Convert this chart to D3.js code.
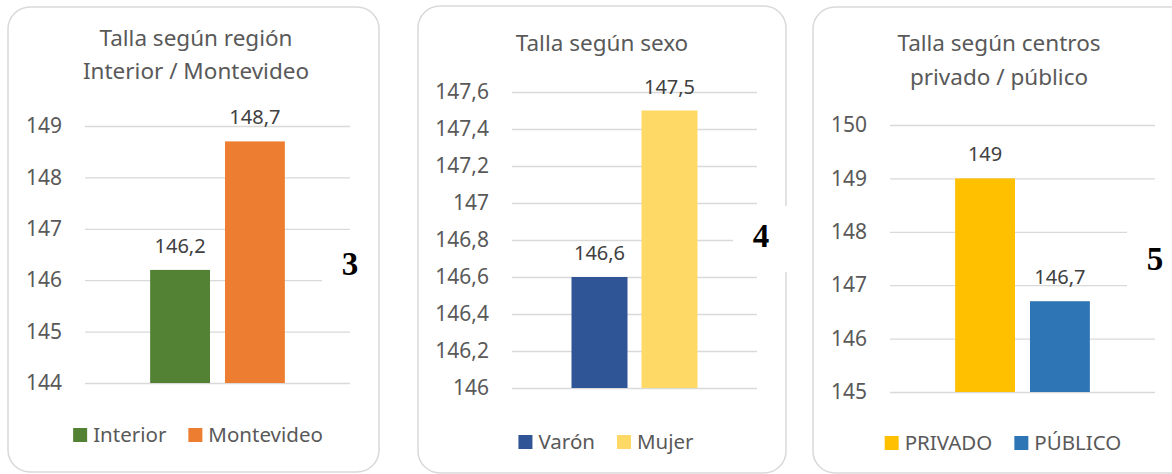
<!DOCTYPE html>
<html>
<head>
<meta charset="utf-8">
<script src="https://cdn.jsdelivr.net/npm/d3@7"></script>
<style>
  body { margin: 0; background: #fff; }
  svg { display: block; font-family: "Noto Sans", sans-serif; }
</style>
</head>
<body>
<svg id="chart" width="1172" height="474"></svg>
<script>
// data
const regionCats = ["Interior", "Montevideo"];
const regionVals = [146.2, 148.7];
const regionTicks = [144, 145, 146, 147, 148, 149];

const sexoCats = ["Varón", "Mujer"];
const sexoVals = [146.6, 147.5];
const sexoTicks = [146, 146.2, 146.4, 146.6, 146.8, 147, 147.2, 147.4, 147.6];

const centroCats = ["PRIVADO", "PÚBLICO"];
const centroVals = [149, 146.7];
const centroTicks = [145, 146, 147, 148, 149, 150];

const GRID = '#d9d9d9';
const TEXT = '#595959';

const fmt = d3.formatLocale({decimal: ",", thousands: ".", grouping: [3], currency: ["", ""]}).format("~f");

const panels = [
    {
        title: ["Talla según región", "Interior / Montevideo"], titleY: [46, 79], titleX: 196,
        cats: regionCats, vals: regionVals, ticks: regionTicks,
        colors: ['#548235', '#ed7d31'],
        box: [8, 7, 371, 465],
        x: [85, 350], y: [383, 126], pad: 0.87,
        legendX: 198, legendY: 435,
        num: "3", numX: 350, numY: 275, mask: [322, 238, 50, 48]
    },
    {
        title: ["Talla según sexo"], titleY: [51], titleX: 602,
        cats: sexoCats, vals: sexoVals, ticks: sexoTicks,
        colors: ['#2f5597', '#ffd966'],
        box: [418, 6, 368, 467],
        x: [512, 757], y: [388, 92], pad: 0.85,
        legendX: 606, legendY: 442,
        num: "4", numX: 761, numY: 247, mask: [733, 206, 60, 66]
    },
    {
        title: ["Talla según centros", "privado / público"], titleY: [51, 85], titleX: 999,
        cats: centroCats, vals: centroVals, ticks: centroTicks,
        colors: ['#ffc000', '#2e75b6'],
        box: [813, 7, 380, 466],
        x: [890, 1155], y: [392, 125], pad: 0.87,
        legendX: 1003, legendY: 443,
        num: "5", numX: 1155, numY: 270, mask: [1127, 205, 50, 95]
    }
];

const svg = d3.select('#chart');

panels.forEach(p => {
    const g = svg.append('g');

    g.append('rect')
        .attr('x', p.box[0]).attr('y', p.box[1])
        .attr('width', p.box[2]).attr('height', p.box[3])
        .attr('rx', 22).attr('ry', 22)
        .attr('fill', '#fff')
        .attr('stroke', GRID)
        .attr('stroke-width', 1.5);

    g.selectAll('text.title')
        .data(p.title)
        .join('text')
        .attr('class', 'title')
        .attr('x', p.titleX)
        .attr('y', (d, i) => p.titleY[i])
        .attr('text-anchor', 'middle')
        .attr('fill', TEXT)
        .style('font-size', '22.5px')
        .text(d => d);

    const x = d3.scaleBand()
        .domain(p.cats)
        .range(p.x)
        .paddingInner(0.2)
        .paddingOuter(p.pad);

    const y = d3.scaleLinear()
        .domain(d3.extent(p.ticks))
        .range(p.y);

    const axis = g.append('g')
        .attr('transform', `translate(${p.x[0]},0)`)
        .call(d3.axisLeft(y)
            .tickValues(p.ticks)
            .tickFormat(fmt)
            .tickSize(-(p.x[1] - p.x[0]))
            .tickPadding(23));
    axis.select('.domain').remove();
    axis.selectAll('.tick line').attr('stroke', GRID).attr('stroke-width', 1.3);
    axis.selectAll('.tick text')
        .attr('fill', TEXT)
        .style('font-size', '21px')
        .style('font-family', '"Noto Sans", sans-serif');

    const data = p.cats.map((c, i) => ({cat: c, val: p.vals[i], color: p.colors[i]}));

    g.selectAll('rect.bar')
        .data(data)
        .join('rect')
        .attr('class', 'bar')
        .attr('x', d => x(d.cat))
        .attr('y', d => y(d.val))
        .attr('width', x.bandwidth())
        .attr('height', d => y.range()[0] - y(d.val))
        .attr('fill', d => d.color);

    g.selectAll('text.lbl')
        .data(data)
        .join('text')
        .attr('class', 'lbl')
        .attr('x', d => x(d.cat) + x.bandwidth() / 2)
        .attr('y', d => y(d.val) - 17)
        .attr('text-anchor', 'middle')
        .attr('fill', '#404040')
        .style('font-size', '20px')
        .text(d => fmt(d.val));

    // legend, centred
    const leg = g.append('g');
    let cx = 0;
    data.forEach((d, i) => {
        const item = leg.append('g').attr('transform', `translate(${cx},0)`);
        item.append('rect')
            .attr('x', 0).attr('y', p.legendY - 7)
            .attr('width', 14).attr('height', 14)
            .attr('fill', d.color);
        const t = item.append('text')
            .attr('x', 20).attr('y', p.legendY + 7)
            .attr('fill', TEXT)
            .style('font-size', '20.5px')
            .text(d.cat);
        cx += 20 + t.node().getComputedTextLength() + 22;
    });
    const legW = cx - 22;
    leg.attr('transform', `translate(${p.legendX - legW / 2},0)`);

    // figure number on a white patch
    svg.append('rect')
        .attr('x', p.mask[0]).attr('y', p.mask[1])
        .attr('width', p.mask[2]).attr('height', p.mask[3])
        .attr('fill', '#fff');
    svg.append('text')
        .attr('x', p.numX).attr('y', p.numY)
        .attr('text-anchor', 'middle')
        .style('font-family', '"Liberation Serif", serif')
        .style('font-weight', 'bold')
        .style('font-size', '33px')
        .attr('fill', '#000')
        .text(p.num);
});
</script>
</body>
</html>
